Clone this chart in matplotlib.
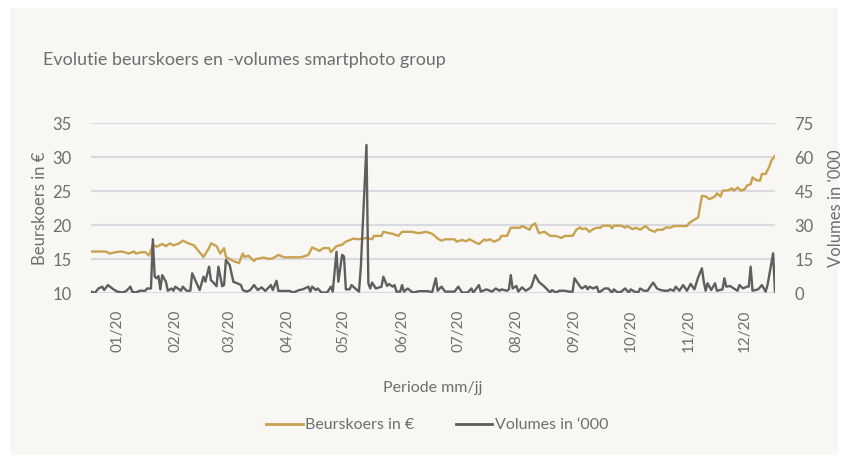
import numpy as np
import pandas as pd
import matplotlib
matplotlib.use('Agg')
import matplotlib.pyplot as plt
import matplotlib.dates as mdates
from matplotlib.patches import Rectangle

plt.rcParams['font.family'] = ['Lato', 'DejaVu Sans']

# koers: dag van het jaar (0 = 1 jan 2020) en slotkoers in EUR
koers_dag = [0, 4, 8, 10, 13, 16, 18, 20, 23, 24, 27, 29, 31, 33, 35, 38, 40, 42, 44, 47,
             49, 52, 55, 57, 60, 63, 64, 67, 69, 71, 72, 74, 76, 79, 81, 82, 84, 87, 88, 92,
             95, 97, 100, 103, 107, 112, 116, 118, 122, 124, 127, 128, 131, 134, 136, 140, 143, 147, 150, 151,
             155, 156, 159, 161, 164, 166, 171, 175, 179, 182, 183, 185, 187, 189, 194, 195, 198, 200, 202, 204,
             207, 210, 211, 213, 215, 218, 219, 222, 224, 227, 229, 230, 232, 234, 235, 237, 239, 242, 245, 247,
             248, 251, 253, 257, 259, 261, 262, 264, 266, 268, 270, 272, 273, 277, 278, 279, 283, 285, 286, 289,
             291, 293, 296, 298, 301, 302, 305, 307, 309, 311, 313, 318, 319, 322, 324, 326, 328, 330, 333, 334,
             336, 337, 340, 342, 343, 345, 347, 349, 350, 352, 353, 355, 357, 358, 360, 362, 363, 365]
koers = [16.1, 16.1, 16.1, 15.8, 16.0, 16.1, 16.0, 15.8, 16.1, 15.8, 16.0, 16.0, 15.5, 17.1, 16.8, 17.2, 16.9, 17.3, 17.0, 17.3,
         17.7, 17.3, 17.0, 16.3, 15.3, 16.6, 17.3, 16.9, 15.8, 16.6, 15.3, 15.0, 14.7, 14.4, 15.8, 15.3, 15.5, 14.7, 15.0, 15.2,
         15.0, 15.1, 15.6, 15.25, 15.25, 15.25, 15.6, 16.7, 16.2, 16.6, 16.6, 16.0, 16.9, 17.1, 17.55, 18.0, 17.9, 18.1, 17.9, 18.4,
         18.4, 19.0, 18.8, 18.7, 18.4, 19.0, 19.0, 18.8, 19.0, 18.7, 18.5, 18.0, 17.7, 17.9, 17.9, 17.55, 17.8, 17.6, 17.9, 17.6,
         17.2, 17.9, 17.7, 17.9, 17.55, 17.9, 18.4, 18.4, 19.6, 19.6, 19.6, 19.85, 19.6, 19.3, 19.85, 20.25, 18.8, 19.0, 18.4, 18.4,
         18.4, 18.1, 18.4, 18.4, 19.3, 19.65, 19.4, 19.5, 19.0, 19.4, 19.6, 19.6, 19.9, 19.9, 19.5, 19.9, 19.9, 19.6, 19.85, 19.4,
         19.6, 19.3, 19.85, 19.3, 19.0, 19.3, 19.3, 19.65, 19.6, 19.85, 19.85, 19.85, 20.25, 20.8, 21.1, 24.3, 24.2, 23.8, 24.2, 24.65,
         24.2, 25.05, 25.1, 25.4, 25.05, 25.5, 25.05, 25.3, 25.8, 26.0, 27.0, 26.6, 26.5, 27.5, 27.5, 28.6, 29.45, 30.15]

# volumes in duizendtallen
vol_dag = [0, 2, 4, 6, 7, 9, 12, 14, 17, 19, 21, 22, 24, 26, 29, 30, 32, 33, 34, 35,
           36, 37, 38, 40, 41, 43, 44, 45, 48, 49, 51, 53, 54, 58, 60, 61, 63, 64, 65, 67,
           68, 70, 71, 72, 74, 76, 78, 80, 81, 83, 85, 87, 89, 91, 93, 96, 97, 99, 100, 103,
           106, 108, 111, 113, 116, 117, 118, 120, 121, 123, 126, 128, 129, 131, 132, 134, 135, 136, 138, 139,
           141, 143, 144, 147, 148, 149, 150, 152, 155, 156, 158, 159, 161, 162, 163, 165, 166, 167, 169, 171,
           172, 175, 180, 182, 184, 185, 187, 189, 192, 194, 196, 198, 201, 203, 204, 207, 208, 211, 212, 214,
           216, 218, 219, 222, 223, 224, 225, 227, 228, 230, 232, 234, 235, 237, 239, 242, 245, 246, 248, 250,
           253, 255, 257, 258, 261, 262, 264, 265, 266, 268, 270, 271, 273, 274, 276, 278, 279, 281, 283, 285,
           287, 288, 290, 292, 293, 295, 297, 299, 300, 302, 304, 306, 308, 309, 311, 312, 314, 316, 318, 320,
           322, 324, 326, 327, 328, 329, 331, 333, 334, 337, 338, 339, 341, 343, 345, 346, 348, 350, 351, 352,
           353, 356, 358, 360, 361, 364, 365]
volume = [0.6, 0.0, 2.0, 2.8, 1.3, 3.5, 1.6, 0.6, 0.2, 1.0, 2.8, 0.6, 0.2, 1.0, 1.0, 2.0, 2.0, 23.7, 7.2, 6.5,
          7.5, 1.6, 7.9, 4.9, 1.0, 2.0, 1.0, 2.8, 1.0, 2.8, 1.0, 1.0, 8.7, 1.3, 7.2, 5.0, 11.6, 5.6, 4.9, 3.0,
          11.6, 3.0, 3.5, 14.6, 12.3, 4.9, 4.3, 3.5, 1.3, 0.6, 1.3, 3.5, 1.3, 2.5, 0.9, 3.5, 1.3, 5.4, 0.9, 0.9,
          0.9, 0.2, 1.3, 1.6, 2.8, 0.6, 2.8, 1.3, 2.0, 0.2, 0.2, 2.8, 0.6, 18.2, 5.0, 16.8, 16.1, 1.6, 1.6, 3.5,
          2.0, 0.6, 11.6, 65.3, 4.3, 2.0, 4.6, 2.0, 2.8, 7.2, 3.1, 4.0, 2.8, 3.5, 0.6, 0.6, 3.5, 0.6, 2.0, 0.6,
          0.2, 0.8, 0.8, 0.2, 6.5, 1.0, 2.8, 0.6, 0.6, 0.6, 2.8, 0.2, 0.2, 2.0, 0.2, 3.5, 0.6, 1.6, 1.3, 0.6,
          2.0, 1.0, 1.6, 1.0, 1.6, 7.9, 2.0, 3.1, 0.6, 2.5, 1.0, 2.0, 2.8, 7.9, 4.9, 2.8, 0.2, 1.3, 0.2, 1.0,
          1.0, 0.6, 0.6, 6.5, 2.8, 2.0, 3.1, 1.6, 2.8, 2.0, 2.8, 0.2, 1.3, 2.0, 2.0, 0.2, 1.6, 0.2, 0.6, 2.0,
          0.2, 1.6, 0.6, 0.2, 2.0, 1.0, 1.0, 3.5, 4.6, 2.0, 1.3, 1.0, 1.0, 1.6, 1.0, 2.8, 1.0, 3.5, 1.0, 4.0,
          1.6, 6.9, 10.9, 4.9, 1.0, 4.3, 1.3, 4.3, 1.0, 1.6, 6.5, 2.8, 3.1, 2.0, 1.0, 3.5, 2.0, 2.8, 2.8, 11.6,
          1.0, 1.6, 3.5, 0.6, 3.5, 17.5, 0.6]

maand_labels = ['01/20', '02/20', '03/20', '04/20', '05/20', '06/20',
                '07/20', '08/20', '09/20', '10/20', '11/20', '12/20']

start = pd.Timestamp('2020-01-01')
x_koers = start + pd.to_timedelta(koers_dag, unit='D')
x_vol = start + pd.to_timedelta(vol_dag, unit='D')

goud = '#C9A24F'
grijs = '#5E5E5E'
tekst = '#6E6E6E'
rooster = '#D9DAE1'

fig = plt.figure(figsize=(8.48, 4.65), dpi=100)
fig.patch.set_facecolor('white')
fig.patches.append(Rectangle((10 / 848, 10 / 465), 828 / 848, 447 / 465,
                             transform=fig.transFigure, facecolor='#F8F7F3',
                             edgecolor='none', zorder=-10))

ax = fig.add_axes([91 / 848, 1 - 293 / 465, 684 / 848, 170 / 465])
ax.set_facecolor('none')
ax.plot(x_koers, koers, color=goud, lw=1.7, zorder=3)
ax.set_ylim(10, 35)
ax.set_yticks([10, 15, 20, 25, 30, 35])
ax.set_xlim(pd.Timestamp('2020-01-01'), pd.Timestamp('2020-12-31'))
ax.grid(axis='y', color=rooster, lw=1.5)
ax.set_axisbelow(True)
for s in ax.spines.values():
    s.set_visible(False)

tick_pos = [pd.Timestamp(2020, m, 15) for m in range(1, 13)]
ax.set_xticks(tick_pos)
ax.set_xticklabels(maand_labels, rotation=90, fontsize=11, color=tekst)
ax.tick_params(axis='x', length=0, pad=12)
ax.tick_params(axis='y', length=0, pad=14, labelsize=12, labelcolor=tekst)
ax.set_ylabel('Beurskoers in €', fontsize=12, color=tekst, labelpad=3)
ax.set_xlabel('Periode mm/jj', fontsize=11.5, color=tekst, labelpad=21)

ax2 = ax.twinx()
ax2.plot(x_vol, volume, color=grijs, lw=1.7, zorder=4)
ax2.set_ylim(0, 75)
ax2.set_yticks([0, 15, 30, 45, 60, 75])
ax2.tick_params(axis='y', length=0, pad=14, labelsize=12, labelcolor=tekst)
ax2.set_ylabel("Volumes in '000", fontsize=12, color=tekst, labelpad=10)
for s in ax2.spines.values():
    s.set_visible(False)

fig.text(43 / 848, 1 - 60 / 465, 'Evolutie beurskoers en -volumes smartphoto group',
         fontsize=12.9, color=tekst, va='center', ha='left')

h1, = ax.plot([], [], color=goud, lw=2)
h2, = ax.plot([], [], color=grijs, lw=2)
fig.legend([h1, h2], ['Beurskoers in €', 'Volumes in ‘000'], loc='center',
           bbox_to_anchor=(437 / 848, 1 - 425 / 465), ncol=2, frameon=False,
           fontsize=11.5, labelcolor=tekst, handlelength=2.3, handletextpad=0.15,
           columnspacing=2.6)

fig.savefig('out.png', dpi=100, facecolor=fig.get_facecolor())
